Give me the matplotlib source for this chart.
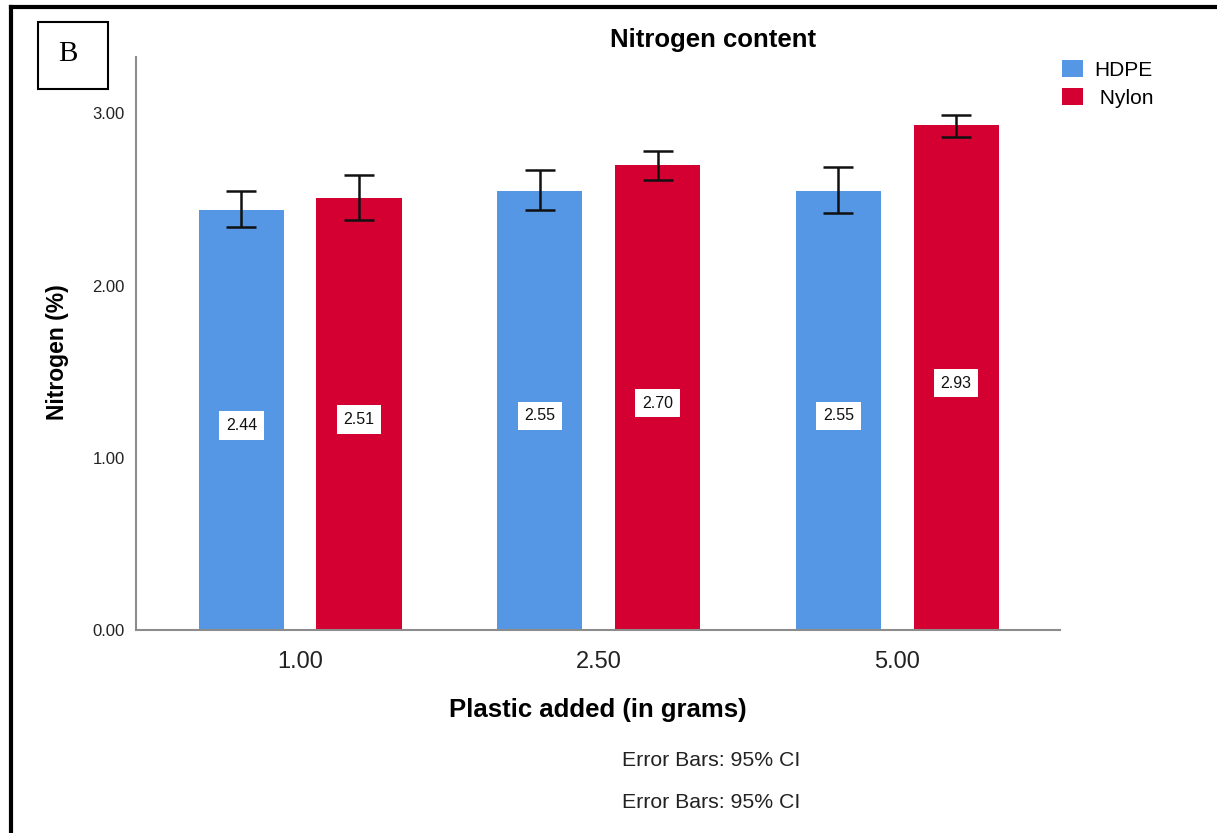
import matplotlib
matplotlib.use("Agg")
import matplotlib.pyplot as plt
import numpy as np
from matplotlib.patches import Rectangle, Patch
from matplotlib.lines import Line2D

plt.rcParams['font.family'] = ['Liberation Sans', 'DejaVu Sans']

# Data: mean nitrogen content with 95% CI bounds
groups = ["1.00", "2.50", "5.00"]
series = ["HDPE", " Nylon"]
hdpe_mean = [2.44, 2.55, 2.55]
nylon_mean = [2.51, 2.70, 2.93]
hdpe_ci_low = [2.34, 2.44, 2.42]
hdpe_ci_high = [2.55, 2.67, 2.69]
nylon_ci_low = [2.38, 2.61, 2.86]
nylon_ci_high = [2.64, 2.78, 2.99]
y_ticks = [0.0, 1.0, 2.0, 3.0]

colors = ["#5597e4", "#d50032"]

W, H = 1217, 833
fig = plt.figure(figsize=(W / 100, H / 100), dpi=100)

# outer frame (top and left edges visible)
fig.add_artist(Line2D([10.5 / W, 10.5 / W], [0, 1 - 7 / H], transform=fig.transFigure,
                      color="black", lw=3, solid_capstyle="projecting"))
fig.add_artist(Line2D([10.5 / W, 1], [1 - 7 / H, 1 - 7 / H], transform=fig.transFigure,
                      color="black", lw=3, solid_capstyle="projecting"))

# panel letter box
fig.add_artist(Rectangle((38 / W, 1 - 89 / H), 70 / W, 67 / H, transform=fig.transFigure,
                         fill=False, edgecolor="black", lw=1.5))
fig.text(68 / W, 1 - 54 / H, "B", family="Liberation Serif", fontsize=21,
         ha="center", va="center")

ax = fig.add_axes([136 / W, 1 - 630 / H, (1060 - 136) / W, (630 - 57) / H])

x = np.arange(len(groups))
bw = 0.285
off = 0.197
means = [hdpe_mean, nylon_mean]
lows = [hdpe_ci_low, nylon_ci_low]
highs = [hdpe_ci_high, nylon_ci_high]

for i, (m, lo, hi, c) in enumerate(zip(means, lows, highs, colors)):
    pos = x + (2 * i - 1) * off
    m = np.array(m)
    ax.bar(pos, m, width=bw, color=c, zorder=2)
    yerr = np.vstack([m - np.array(lo), np.array(hi) - m])
    ax.errorbar(pos, m, yerr=yerr, fmt="none", ecolor="#111111", elinewidth=1.8,
                capsize=10.5, capthick=1.8, zorder=3)
    for p, v in zip(pos, m):
        ax.annotate(f"{v:.2f}", xy=(p, v / 2), xytext=(0, -4), textcoords="offset points",
                    ha="center", va="center", fontsize=11.5, color="#111111", zorder=4,
                    bbox=dict(boxstyle="square,pad=0.42", facecolor="white", edgecolor="none"))

ax.set_xlim(-0.55, 2.545)
ax.set_ylim(0, 3.327)
ax.set_xticks(x)
ax.set_xticklabels(groups, fontsize=17, color="#222222")
ax.set_yticks(y_ticks)
ax.set_yticklabels([f"{t:.2f}" for t in y_ticks], fontsize=12, color="#222222",
                   va="top")
for lbl in ax.get_yticklabels():
    lbl.set_verticalalignment("center_baseline")
ax.tick_params(axis="both", length=0)
ax.tick_params(axis="y", pad=8)
ax.tick_params(axis="x", pad=15)
for s in ["top", "right"]:
    ax.spines[s].set_visible(False)
for s in ["left", "bottom"]:
    ax.spines[s].set_color("#8c8c8c")
    ax.spines[s].set_linewidth(1.5)

fig.text(713 / W, 1 - 40 / H, "Nitrogen content", fontsize=18.5, fontweight="bold",
         ha="center", va="center")
fig.text(598 / W, 1 - 710 / H, "Plastic added (in grams)", fontsize=18.5, fontweight="bold",
         ha="center", va="center")
fig.text(58 / W, 1 - 352 / H, "Nitrogen (%)", fontsize=16.5, fontweight="bold",
         ha="center", va="center", rotation=90)

handles = [Patch(facecolor=c, edgecolor="none") for c in colors]
fig.legend(handles, series, loc="upper left", bbox_to_anchor=(1058 / W, 1 - 56 / H),
           frameon=False, fontsize=15, handlelength=1.0, handleheight=0.85,
           handletextpad=0.55, labelspacing=0.42, borderaxespad=0, borderpad=0.2)

for yy in (760, 803):
    fig.text(622 / W, 1 - yy / H, "Error Bars: 95% CI", fontsize=15.3, ha="left",
             va="center", color="#222222")

fig.savefig("out.png", dpi=100)
